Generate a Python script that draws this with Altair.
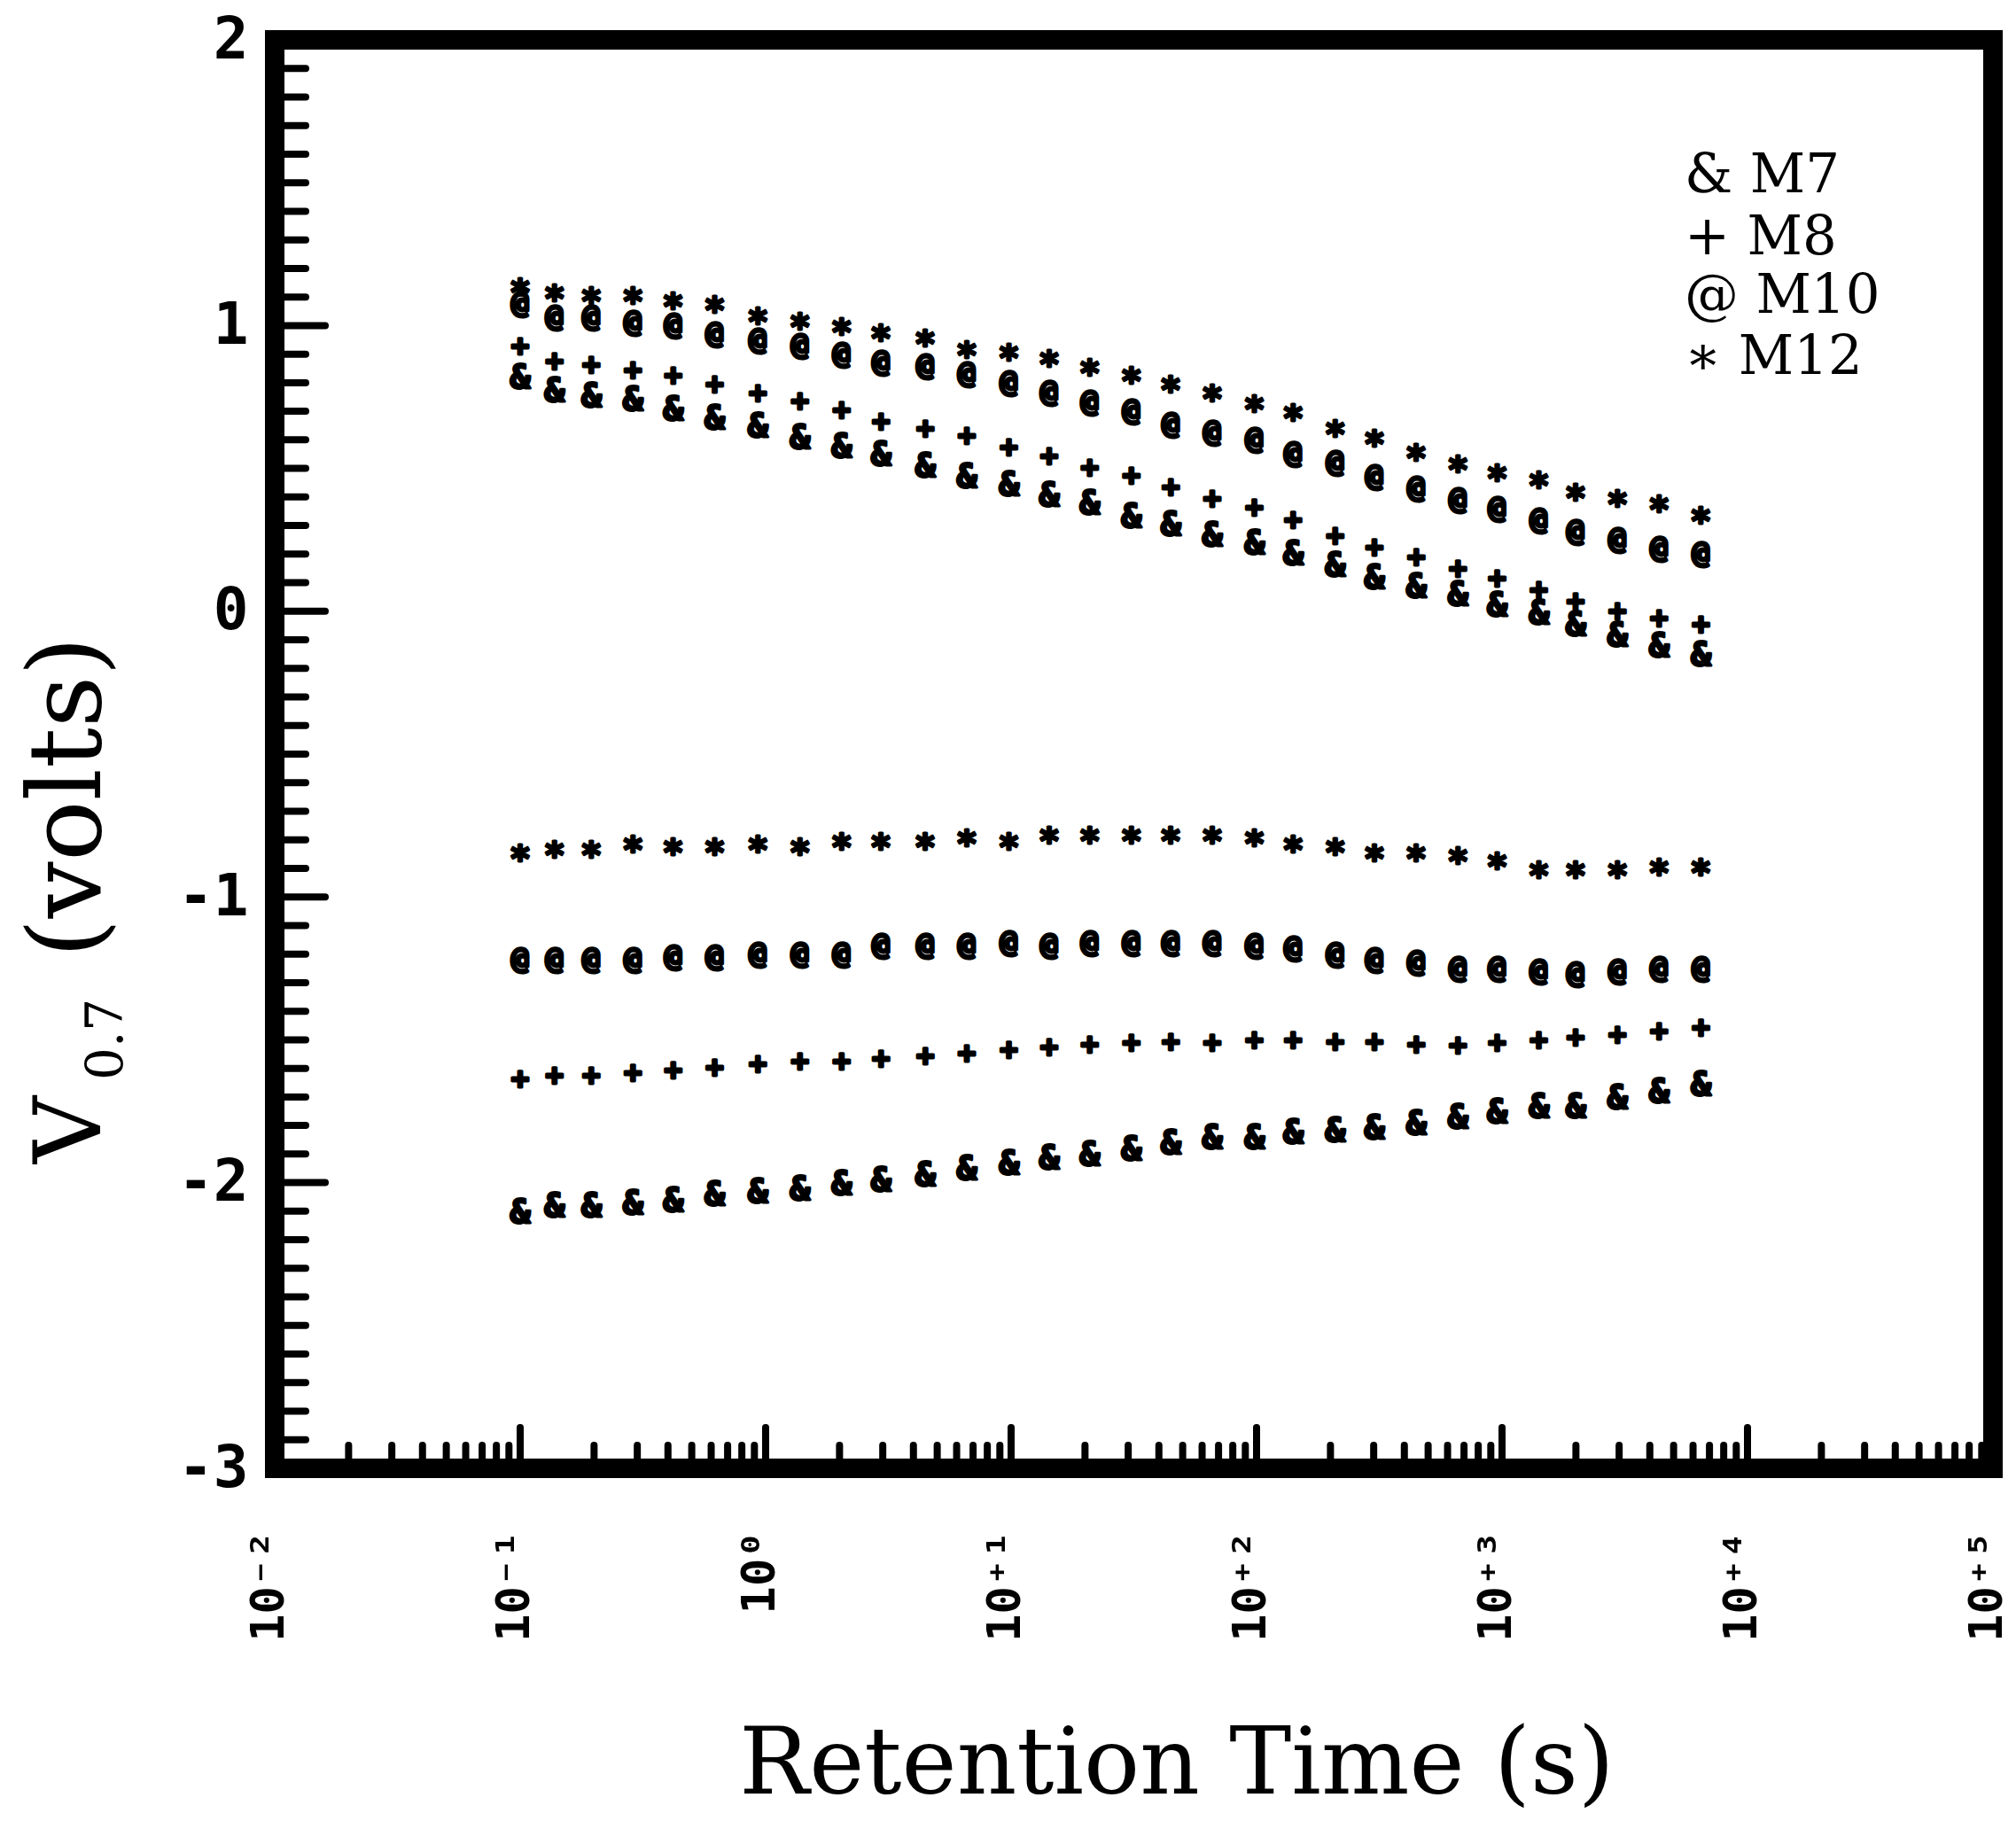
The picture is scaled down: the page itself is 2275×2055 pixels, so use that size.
import altair as alt
import pandas as pd

# ---------------- data ----------------
times = [0.1, 0.138, 0.195, 0.288, 0.42, 0.62, 0.93, 1.38, 2.04, 2.95,
         4.47, 6.6, 9.8, 14.3, 20.9, 30.9, 44.7, 66, 98, 141,
         209, 302, 447, 661, 955, 1413, 1995, 2951, 4365, 6457]

series_names = ["M7", "M8", "M10", "M12"]
series_glyphs = ["&", "+", "@", "*"]

m7_upper = [0.82, 0.775, 0.755, 0.745, 0.71, 0.68, 0.65, 0.61, 0.58, 0.55,
            0.51, 0.475, 0.445, 0.41, 0.38, 0.335, 0.305, 0.27, 0.24, 0.205,
            0.165, 0.12, 0.09, 0.06, 0.025, -0.005, -0.045, -0.08, -0.12, -0.15]
m7_lower = [-2.10, -2.08, -2.08, -2.07, -2.06, -2.04, -2.03, -2.02, -2.00, -1.99,
            -1.97, -1.95, -1.93, -1.91, -1.90, -1.88, -1.86, -1.84, -1.84, -1.82,
            -1.815, -1.805, -1.79, -1.77, -1.75, -1.73, -1.73, -1.70, -1.68, -1.655]
m8_upper = [0.925, 0.87, 0.86, 0.84, 0.82, 0.79, 0.76, 0.73, 0.70, 0.66,
            0.635, 0.61, 0.57, 0.54, 0.50, 0.47, 0.43, 0.39, 0.36, 0.315,
            0.26, 0.22, 0.185, 0.145, 0.11, 0.07, 0.03, -0.005, -0.03, -0.05]
m8_lower = [-1.64, -1.63, -1.63, -1.62, -1.61, -1.60, -1.59, -1.58, -1.58, -1.57,
            -1.56, -1.55, -1.54, -1.53, -1.52, -1.515, -1.51, -1.515, -1.505, -1.505,
            -1.51, -1.51, -1.52, -1.525, -1.515, -1.505, -1.495, -1.485, -1.475, -1.46]
m10_upper = [1.075, 1.03, 1.03, 1.01, 1.00, 0.97, 0.95, 0.93, 0.90, 0.87,
             0.86, 0.83, 0.80, 0.765, 0.73, 0.70, 0.655, 0.625, 0.60, 0.55,
             0.52, 0.47, 0.43, 0.39, 0.36, 0.32, 0.28, 0.25, 0.22, 0.20]
m10_lower = [-1.22, -1.22, -1.22, -1.22, -1.21, -1.21, -1.20, -1.20, -1.20, -1.17,
             -1.17, -1.17, -1.16, -1.17, -1.16, -1.16, -1.16, -1.16, -1.17, -1.18,
             -1.20, -1.22, -1.23, -1.25, -1.25, -1.26, -1.27, -1.26, -1.25, -1.25]
m12_upper = [1.14, 1.12, 1.11, 1.11, 1.09, 1.08, 1.04, 1.02, 1.00, 0.98,
             0.96, 0.92, 0.91, 0.89, 0.86, 0.83, 0.80, 0.77, 0.73, 0.70,
             0.645, 0.61, 0.56, 0.52, 0.49, 0.465, 0.42, 0.40, 0.38, 0.34]
m12_lower = [-0.84, -0.83, -0.83, -0.81, -0.82, -0.82, -0.81, -0.82, -0.80, -0.80,
             -0.80, -0.79, -0.80, -0.78, -0.78, -0.78, -0.78, -0.78, -0.79, -0.81,
             -0.82, -0.84, -0.84, -0.85, -0.87, -0.90, -0.90, -0.90, -0.89, -0.89]

series_values = {
    "M7": (m7_upper, m7_lower),
    "M8": (m8_upper, m8_lower),
    "M10": (m10_upper, m10_lower),
    "M12": (m12_upper, m12_lower),
}

x_tick_values = [0.01, 0.1, 1, 10, 100, 1000, 10000, 100000]
x_tick_labels = ["10⁻²", "10⁻¹", "10⁰", "10⁺¹", "10⁺²", "10⁺³", "10⁺⁴", "10⁺⁵"]
y_tick_values = [-3, -2, -1, 0, 1, 2]

legend_lines = ["& M7", "+ M8", "@ M10", "∗ M12"]
x_title = "Retention Time (s)"
y_title_parts = ["V", "0.7", "(volts)"]

# ---------------- layout ----------------
W, H = 1939, 1612
x_minor = [m * 10.0 ** e for e in range(-2, 5) for m in range(2, 10)]
y_minor = [round(i / 10, 1) for i in range(-29, 20) if i % 10 != 0]

label_expr_x = "[" + ",".join("'%s'" % s for s in x_tick_labels) + "][round(log(datum.value)/LN10) + 2]"

x_enc = alt.X(
    "t:Q",
    scale=alt.Scale(type="log", domain=[0.01, 100000], nice=False),
    axis=alt.Axis(
        values=x_tick_values, labelExpr=label_expr_x, labelAngle=270,
        labelFont="DejaVu Sans Mono", labelFontWeight="bold", labelFontSize=52,
        labelColor="black", labelPadding=70, labelOffset=-7, labelFlush=False,
        labelOverlap=False, labelBound=False, ticks=False, tickSize=0,
        domain=False, grid=False, title=None,
    ),
)
y_enc = alt.Y(
    "v:Q",
    scale=alt.Scale(domain=[-3, 2], nice=False, zero=False),
    axis=alt.Axis(
        values=y_tick_values, labelExpr="(datum.value < 0 ? '-' : '') + abs(datum.value)",
        labelFont="DejaVu Sans Mono", labelFontWeight="bold", labelFontSize=66,
        labelColor="black", labelPadding=30, labelFlush=False, labelOverlap=False,
        ticks=False, tickSize=0, domain=False, grid=False, title=None,
    ),
)

layers = []

# ticks (inside the frame)
tick_style = dict(color="black", strokeWidth=8, strokeCap="round")
layers.append(alt.Chart(pd.DataFrame({"v": y_minor})).mark_rule(**tick_style).encode(
    y=y_enc, x=alt.value(0), x2=alt.value(35)))
layers.append(alt.Chart(pd.DataFrame({"v": y_tick_values})).mark_rule(**tick_style).encode(
    y=y_enc, x=alt.value(0), x2=alt.value(57)))
layers.append(alt.Chart(pd.DataFrame({"t": x_minor})).mark_rule(**tick_style).encode(
    x=x_enc, y=alt.value(H), y2=alt.value(H - 26)))
layers.append(alt.Chart(pd.DataFrame({"t": x_tick_values})).mark_rule(**tick_style).encode(
    x=x_enc, y=alt.value(H), y2=alt.value(H - 46)))

# data markers as (heavy) text glyphs
glyph_dy = {"&": 2, "+": 0, "@": 0, "*": 10}
glyph_size = {"&": 38, "+": 34, "@": 34, "*": 40}
for name, glyph in zip(series_names, series_glyphs):
    up, lo = series_values[name]
    df = pd.DataFrame({"t": times + times, "v": up + lo})
    layers.append(
        alt.Chart(df).mark_text(
            text=glyph, font="DejaVu Sans Mono", fontWeight="bold",
            fontSize=glyph_size[glyph], dy=glyph_dy[glyph], color="black",
            stroke="black", strokeWidth=3, strokeJoin="round",
            align="center", baseline="middle",
        ).encode(x=x_enc, y=y_enc)
    )

# legend (inside, top right)
legend_y = [172, 242, 308, 377]
for line, ly in zip(legend_lines, legend_y):
    layers.append(
        alt.Chart(pd.DataFrame({"label": [line]})).mark_text(
            font="DejaVu Serif", fontSize=61, color="black", align="left", baseline="alphabetic",
        ).encode(x=alt.value(1591), y=alt.value(ly), text="label:N")
    )

# x title
layers.append(
    alt.Chart(pd.DataFrame({"label": [x_title]})).mark_text(
        font="DejaVu Serif", fontSize=105, color="black", align="center", baseline="alphabetic",
    ).encode(x=alt.value(1018), y=alt.value(1979), text="label:N")
)

# y title, rotated, with subscript
y_title_pos = [(-197, 1268, 105), (-172, 1174, 58), (-197, 1036, 114)]
for part, (px, py, fs) in zip(y_title_parts, y_title_pos):
    layers.append(
        alt.Chart(pd.DataFrame({"label": [part]})).mark_text(
            font="DejaVu Serif", fontSize=fs, color="black", align="left",
            baseline="alphabetic", angle=270,
        ).encode(x=alt.value(px), y=alt.value(py), text="label:N")
    )

chart = alt.layer(*layers).properties(
    width=W, height=H,
    padding={"left": 310, "top": 45, "right": 26, "bottom": 398},
    autosize=alt.AutoSizeParams(type="none"),
    background="white",
).configure_view(stroke="black", strokeWidth=22)

chart.save("out.html", embed_options={"renderer": "svg", "actions": False})
